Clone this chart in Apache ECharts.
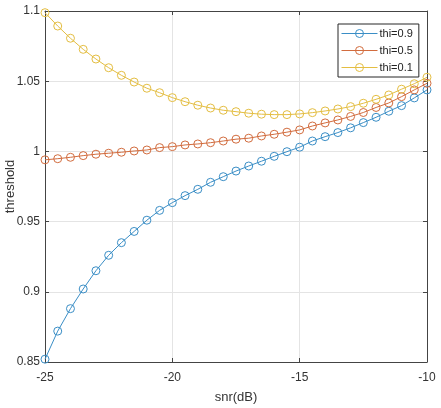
<!DOCTYPE html>
<html>
<head>
<meta charset="utf-8">
<title>threshold vs snr</title>
<script src="https://cdn.jsdelivr.net/npm/echarts@6/dist/echarts.min.js"></script>
<style>
    html, body { margin: 0; padding: 0; background: #fff; }
    #chart { width: 441px; height: 408px; }
</style>
</head>
<body>
<div id="chart"></div>
<script>
// 横坐标 snr(dB)，每 0.5 dB 一个点
let snr = [-25, -24.5, -24, -23.5, -23, -22.5, -22, -21.5, -21, -20.5,
    -20, -19.5, -19, -18.5, -18, -17.5, -17, -16.5, -16, -15.5,
    -15, -14.5, -14, -13.5, -13, -12.5, -12, -11.5, -11, -10.5, -10];

// 三条曲线
let thi09 = [0.852, 0.872, 0.888, 0.902, 0.915, 0.926, 0.935, 0.943, 0.951, 0.958,
    0.9635, 0.9685, 0.973, 0.978, 0.982, 0.986, 0.9896, 0.993, 0.9965, 0.9998,
    1.003, 1.0074, 1.0105, 1.0134, 1.0168, 1.0205, 1.0243, 1.0286, 1.0326, 1.0381, 1.0438];
let thi05 = [0.994, 0.9948, 0.9958, 0.997, 0.998, 0.9987, 0.9994, 1.0003, 1.001, 1.0027,
    1.0034, 1.0046, 1.0053, 1.0062, 1.0074, 1.0087, 1.0094, 1.011, 1.0122, 1.0137,
    1.0153, 1.0181, 1.0203, 1.0224, 1.0249, 1.0277, 1.0313, 1.0345, 1.039, 1.0438, 1.0485];
let thi01 = [1.0988, 1.0893, 1.0806, 1.0727, 1.0658, 1.0596, 1.0542, 1.0494, 1.045, 1.0418,
    1.0383, 1.0354, 1.0329, 1.0309, 1.0293, 1.0283, 1.0272, 1.0265, 1.0262, 1.0262,
    1.0267, 1.0276, 1.0288, 1.0302, 1.0319, 1.0343, 1.0371, 1.0402, 1.0443, 1.0482, 1.0528];

let names = ['thi=0.9', 'thi=0.5', 'thi=0.1'];
let colors = ['#3a8ec6', '#d26c3e', '#e4be42'];
let xTicks = [-25, -20, -15, -10];
let yTicks = [0.85, 0.9, 0.95, 1, 1.05, 1.1];

let font = 'Liberation Sans, Arial, sans-serif';
let axisColor = '#444';
let hollow = 'rgba(255,255,255,0)';

// 组装一条折线
let makeSeries = (name, ys, color) => ({
    name: name,
    type: 'line',
    xAxisIndex: 0,
    yAxisIndex: 0,
    data: snr.map((x, i) => [x, ys[i]]),
    symbol: 'circle',
    symbolSize: 8,
    showSymbol: true,
    lineStyle: { color: color, width: 1 },
    itemStyle: { color: hollow, borderColor: color, borderWidth: 1 },
    emphasis: { disabled: true },
    animation: false
});

// 次坐标轴：只画框上的刻度
let boxAxis = (pos, min, max, interval) => ({
    type: 'value',
    position: pos,
    min: min,
    max: max,
    interval: interval,
    axisLine: { show: true, lineStyle: { color: axisColor, width: 1 } },
    axisTick: { show: true, inside: true, length: 4, lineStyle: { color: axisColor } },
    axisLabel: { show: false },
    splitLine: { show: false }
});

let chart = echarts.init(document.getElementById('chart'), null, { renderer: 'canvas' });
chart.setOption({
    backgroundColor: '#fff',
    animation: false,
    grid: { left: 45, right: 14, top: 11, bottom: 46, containLabel: false, outerBoundsMode: 'none' },
    legend: {
        data: names.map((n, i) => ({
            name: n,
            lineStyle: { color: colors[i], width: 1 },
            itemStyle: { color: hollow, borderColor: colors[i], borderWidth: 1 }
        })),
        orient: 'vertical',
        left: 338,
        top: 24,
        itemWidth: 36,
        itemHeight: 10,
        itemGap: 6,
        padding: [4, 6, 4, 3],
        backgroundColor: '#fff',
        borderColor: '#262626',
        borderWidth: 1,
        borderRadius: 0,
        textStyle: { fontFamily: font, fontSize: 11, color: '#222', padding: [0, 0, 0, -3] }
    },
    xAxis: [{
        type: 'value',
        min: xTicks[0],
        max: xTicks[xTicks.length - 1],
        interval: 5,
        name: 'snr(dB)',
        nameLocation: 'middle',
        nameGap: 29,
        nameMoveOverlap: false,
        nameTextStyle: { fontFamily: font, fontSize: 13, color: '#333' },
        axisLine: { show: true, lineStyle: { color: axisColor, width: 1 } },
        axisTick: { show: true, inside: true, length: 4, lineStyle: { color: axisColor } },
        axisLabel: { fontFamily: font, fontSize: 12, color: '#333', margin: 10 },
        splitLine: { show: true, lineStyle: { color: '#e4e4e4', width: 1 } }
    }, boxAxis('top', xTicks[0], xTicks[xTicks.length - 1], 5)],
    yAxis: [{
        type: 'value',
        min: yTicks[0],
        max: yTicks[yTicks.length - 1],
        interval: 0.05,
        name: 'threshold',
        nameLocation: 'middle',
        nameGap: 28,
        nameMoveOverlap: false,
        nameTextStyle: { fontFamily: font, fontSize: 13, color: '#333' },
        axisLine: { show: true, lineStyle: { color: axisColor, width: 1 } },
        axisTick: { show: true, inside: true, length: 4, lineStyle: { color: axisColor } },
        axisLabel: { fontFamily: font, fontSize: 12, color: '#333', margin: 5 },
        splitLine: { show: true, lineStyle: { color: '#e4e4e4', width: 1 } }
    }, boxAxis('right', yTicks[0], yTicks[yTicks.length - 1], 0.05)],
    series: [
        makeSeries(names[0], thi09, colors[0]),
        makeSeries(names[1], thi05, colors[1]),
        makeSeries(names[2], thi01, colors[2])
    ]
});
</script>
</body>
</html>
